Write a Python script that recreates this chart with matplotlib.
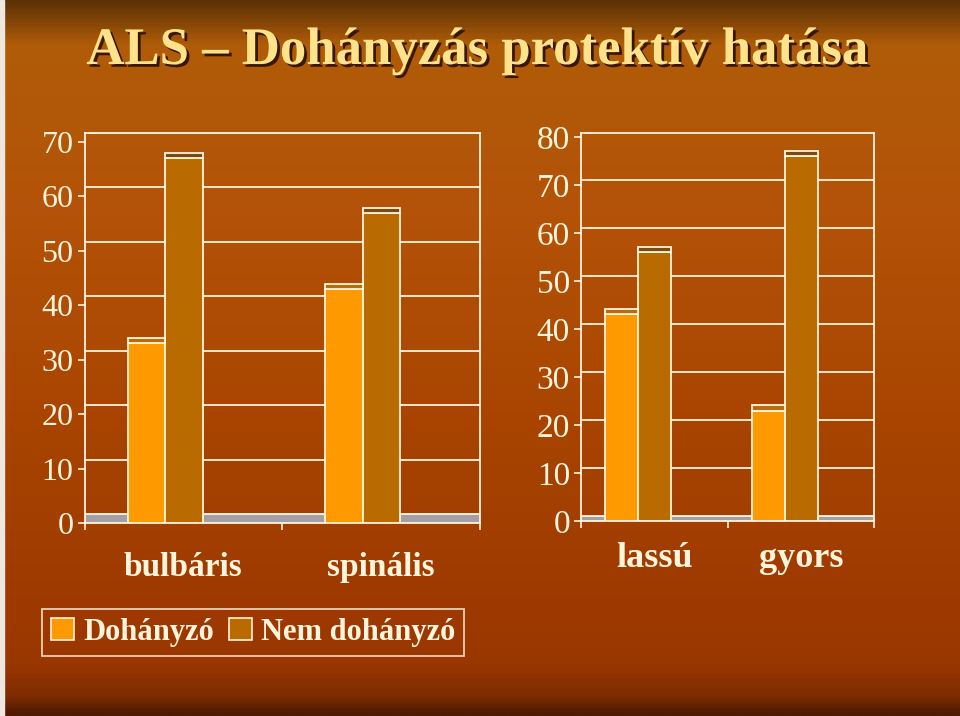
import numpy as np
import matplotlib
matplotlib.use('Agg')
import matplotlib.pyplot as plt
import matplotlib.patheffects as pe
from matplotlib.colors import LinearSegmentedColormap
from matplotlib.patches import Rectangle

plt.rcParams['font.family'] = ['Liberation Serif', 'DejaVu Serif']

# ---- adatok ----
title = 'ALS – Dohányzás protektív hatása'
series_names = ['Dohányzó', 'Nem dohányzó']

cat_left = ['bulbáris', 'spinális']
doh_left = [33, 43]
nem_left = [67, 57]

cat_right = ['lassú', 'gyors']
doh_right = [43, 23]
nem_right = [56, 76]

yticks_left = [0, 10, 20, 30, 40, 50, 60, 70]
yticks_right = [0, 10, 20, 30, 40, 50, 60, 70, 80]

# ---- stílus ----
cream = '#FFF4DC'
c_doh, c_doh_top = '#FF9900', '#B86E08'
c_nem, c_nem_top = '#B96B00', '#7A4A10'
floor_col = '#A0A0A6'

fig = plt.figure(figsize=(9.6, 7.16), dpi=100)

# háttér színátmenet
bg = fig.add_axes([0, 0, 1, 1], zorder=-10)
cmap = LinearSegmentedColormap.from_list('bg', [
    (0.0, '#5E3206'), (0.06, '#B05C08'), (0.3, '#B45208'),
    (0.6, '#A84400'), (0.93, '#9A3600'), (0.975, '#7E2C00'), (1.0, '#4E1A00')])
grad = np.linspace(0, 1, 400).reshape(-1, 1)
bg.imshow(grad, aspect='auto', cmap=cmap, extent=[0, 1, 0, 1], origin='upper')
bg.set_xlim(0, 1)
bg.set_ylim(0, 1)
bg.axis('off')
bg.add_patch(Rectangle((0, 0), 0.004, 1, color='#F0E8E0', transform=bg.transAxes))


def draw_chart(rect, cats, doh, nem, yticks, ymax, wall_dy, top_h, dx, w,
               tick_fs, cat_fs, cat_pad):
    ax = fig.add_axes(rect)
    ax.set_facecolor('none')
    ax.set_xlim(0, 2)
    ax.set_ylim(0, ymax)
    x = np.arange(len(cats)) + 0.5

    # padló és hátsó fal rácsvonalai
    ax.axhspan(0, wall_dy, color=floor_col, zorder=1)
    for v in yticks:
        ax.axhline(v + wall_dy, color=cream, lw=1.3, zorder=2)

    # oszlopok
    ax.bar(x - dx - w / 2, doh, width=w, color=c_doh, edgecolor=cream, lw=1.3, zorder=3)
    ax.bar(x - dx + w / 2, nem, width=w, color=c_nem, edgecolor=cream, lw=1.3, zorder=3)
    ax.bar(x - dx - w / 2, top_h, bottom=doh, width=w, color=c_doh_top, edgecolor=cream, lw=1.3, zorder=3)
    ax.bar(x - dx + w / 2, top_h, bottom=nem, width=w, color=c_nem_top, edgecolor=cream, lw=1.3, zorder=3)

    ax.set_yticks(yticks)
    ax.set_yticklabels([str(v) for v in yticks])
    ax.set_xticks(x)
    ax.set_xticklabels(cats, fontweight='bold')
    ax.set_xticks([0, 1, 2], minor=True)
    ax.tick_params(axis='x', which='major', length=0, pad=cat_pad, labelsize=cat_fs, colors=cream)
    ax.tick_params(axis='x', which='minor', length=5, color=cream, width=1.2)
    ax.tick_params(axis='y', length=5, color=cream, width=1.2, labelsize=tick_fs,
                   labelcolor=cream, pad=3)
    for s in ax.spines.values():
        s.set_color(cream)
        s.set_linewidth(1.3)
    return ax


# bal diagram
draw_chart([84.5 / 960, 1 - 523.3 / 716, (480 - 84.5) / 960, (523.3 - 132.7) / 716],
           cat_left, doh_left, nem_left, yticks_left, 71.65, 1.65, 0.9, 0.0924, 0.19,
           tick_fs=23, cat_fs=24, cat_pad=21)

# jobb diagram
draw_chart([581 / 960, 1 - 521 / 716, (874.3 - 581) / 960, (521 - 132.7) / 716],
           cat_right, doh_right, nem_right, yticks_right, 80.85, 1.0, 1.1, 0.11, 0.223,
           tick_fs=24, cat_fs=26, cat_pad=15)

# cím
fig.text(0.497, 1 - 51 / 716, title, ha='center', va='center', fontsize=38,
         fontweight='bold', color='#FFE38C',
         path_effects=[pe.withSimplePatchShadow(offset=(2, -2), shadow_rgbFace='#2A1000', alpha=0.9)])

# jelmagyarázat
handles = [Rectangle((0, 0), 1, 1, facecolor=c_doh, edgecolor=cream, lw=1.2),
           Rectangle((0, 0), 1, 1, facecolor=c_nem, edgecolor=cream, lw=1.2)]
leg = fig.legend(handles, series_names, loc='lower left',
                 bbox_to_anchor=(41.7 / 960, 1 - 656 / 716), ncol=2,
                 prop={'size': 22, 'weight': 'bold'}, labelcolor=cream,
                 frameon=True, fancybox=False, handlelength=0.75, handleheight=0.75,
                 handletextpad=0.3, columnspacing=0.5, borderpad=0.3,
                 borderaxespad=0)
leg.get_frame().set_facecolor('none')
leg.get_frame().set_edgecolor(cream)
leg.get_frame().set_linewidth(1.3)

fig.savefig('out.png', dpi=100)
